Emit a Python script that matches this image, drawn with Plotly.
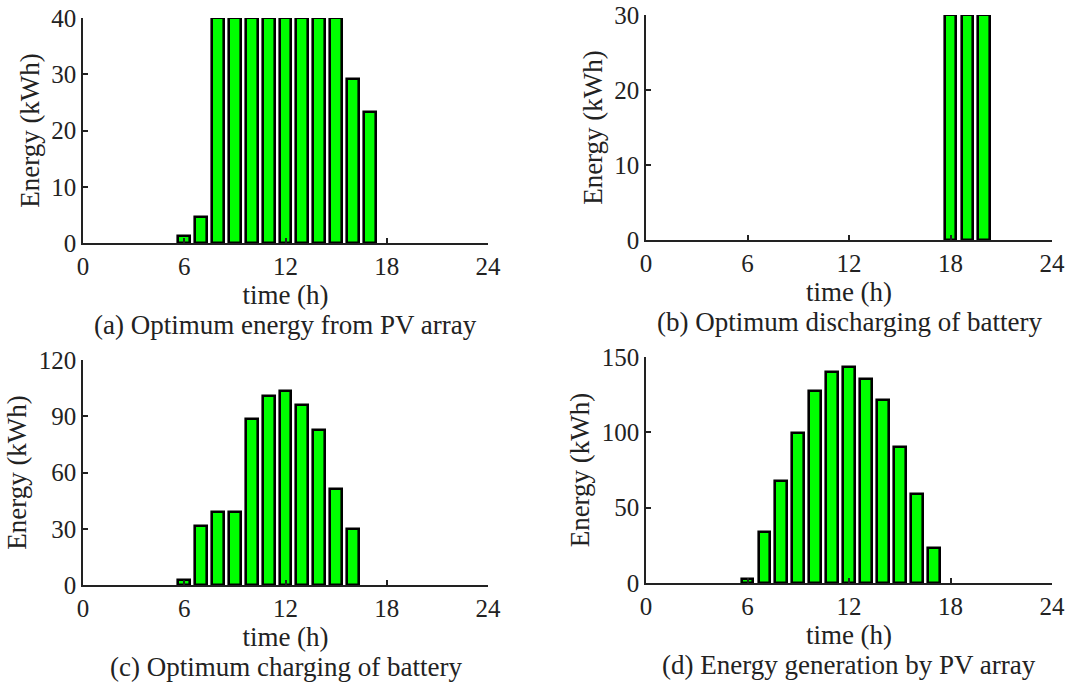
import plotly.graph_objects as go

hours_a = [6, 7, 8, 9, 10, 11, 12, 13, 14, 15, 16, 17]
pv_optimum = [1.2, 4.6, 40, 40, 40, 40, 40, 40, 40, 40, 29.2, 23.3]

hours_b = [18, 19, 20]
battery_discharge = [30, 30, 30]

hours_c = [6, 7, 8, 9, 10, 11, 12, 13, 14, 15, 16]
battery_charge = [2.7, 31.3, 38.8, 38.8, 88.5, 101, 103.6, 96.2, 82.7, 51.2, 29.9]

hours_d = [6, 7, 8, 9, 10, 11, 12, 13, 14, 15, 16, 17]
pv_generation = [2.9, 33.9, 68, 99.3, 127.4, 140, 143.4, 135.2, 121.2, 90.2, 59.2, 23.3]

x_ticks = [0, 6, 12, 18, 24]
captions = ["(a) Optimum energy from PV array", "(b) Optimum discharging of battery",
            "(c) Optimum charging of battery", "(d) Energy generation by PV array"]

W, H = 1092, 683
FONT = "Liberation Serif, Times New Roman, serif"
GREEN = "#00FF00"
INK = "#222"

panels = [
    dict(x=hours_a, y=pv_optimum, px=(83, 488), py=(18, 243), ymax=40, dt=10),
    dict(x=hours_b, y=battery_discharge, px=(646, 1052), py=(15, 240), ymax=30, dt=10),
    dict(x=hours_c, y=battery_charge, px=(83, 488), py=(360, 585), ymax=120, dt=30),
    dict(x=hours_d, y=pv_generation, px=(646, 1052), py=(357, 583), ymax=150, dt=50),
]

fig = go.Figure()
layout = {}
annotations = []
for i, p in enumerate(panels):
    n = "" if i == 0 else str(i + 1)
    fig.add_trace(go.Bar(
        x=p["x"], y=p["y"], width=0.7,
        marker=dict(color=GREEN, line=dict(color="black", width=2.6)),
        xaxis="x" + n, yaxis="y" + n, showlegend=False,
    ))
    x0, x1 = p["px"]
    y0, y1 = p["py"]
    layout["xaxis" + n] = dict(
        domain=[x0 / W, x1 / W], anchor="y" + n, range=[0, 24], automargin=False,
        tickvals=x_ticks, ticks="inside", ticklen=5, tickwidth=1.5, tickcolor=INK,
        showline=True, linecolor=INK, linewidth=1.5, showgrid=False, zeroline=False,
        tickfont=dict(family=FONT, size=25, color=INK),
        title=dict(text="time (h)", font=dict(family=FONT, size=27, color=INK), standoff=0),
    )
    layout["yaxis" + n] = dict(
        domain=[1 - y1 / H, 1 - y0 / H], anchor="x" + n, range=[0, p["ymax"]], automargin=False,
        tickvals=list(range(0, p["ymax"] + 1, p["dt"])),
        ticks="inside", ticklen=5, tickwidth=1.5, tickcolor=INK,
        showline=True, linecolor=INK, linewidth=1.5, showgrid=False, zeroline=False,
        tickfont=dict(family=FONT, size=25, color=INK),
        title=dict(text="Energy (kWh)", font=dict(family=FONT, size=27, color=INK), standoff=4),
    )
    annotations.append(dict(
        text=captions[i], xref="paper", yref="paper",
        x=((x0 + x1) / 2) / W, y=1 - (y1 + 82) / H, xanchor="center", yanchor="middle",
        showarrow=False, font=dict(family=FONT, size=27, color=INK),
    ))

fig.update_layout(
    width=W, height=H, margin=dict(l=0, r=0, t=0, b=0),
    paper_bgcolor="white", plot_bgcolor="white", bargap=0,
    annotations=annotations, **layout,
)
fig.write_html("out.html", config={"displayModeBar": False},
               post_script="document.body.style.margin='0';document.body.style.overflow='hidden';")
